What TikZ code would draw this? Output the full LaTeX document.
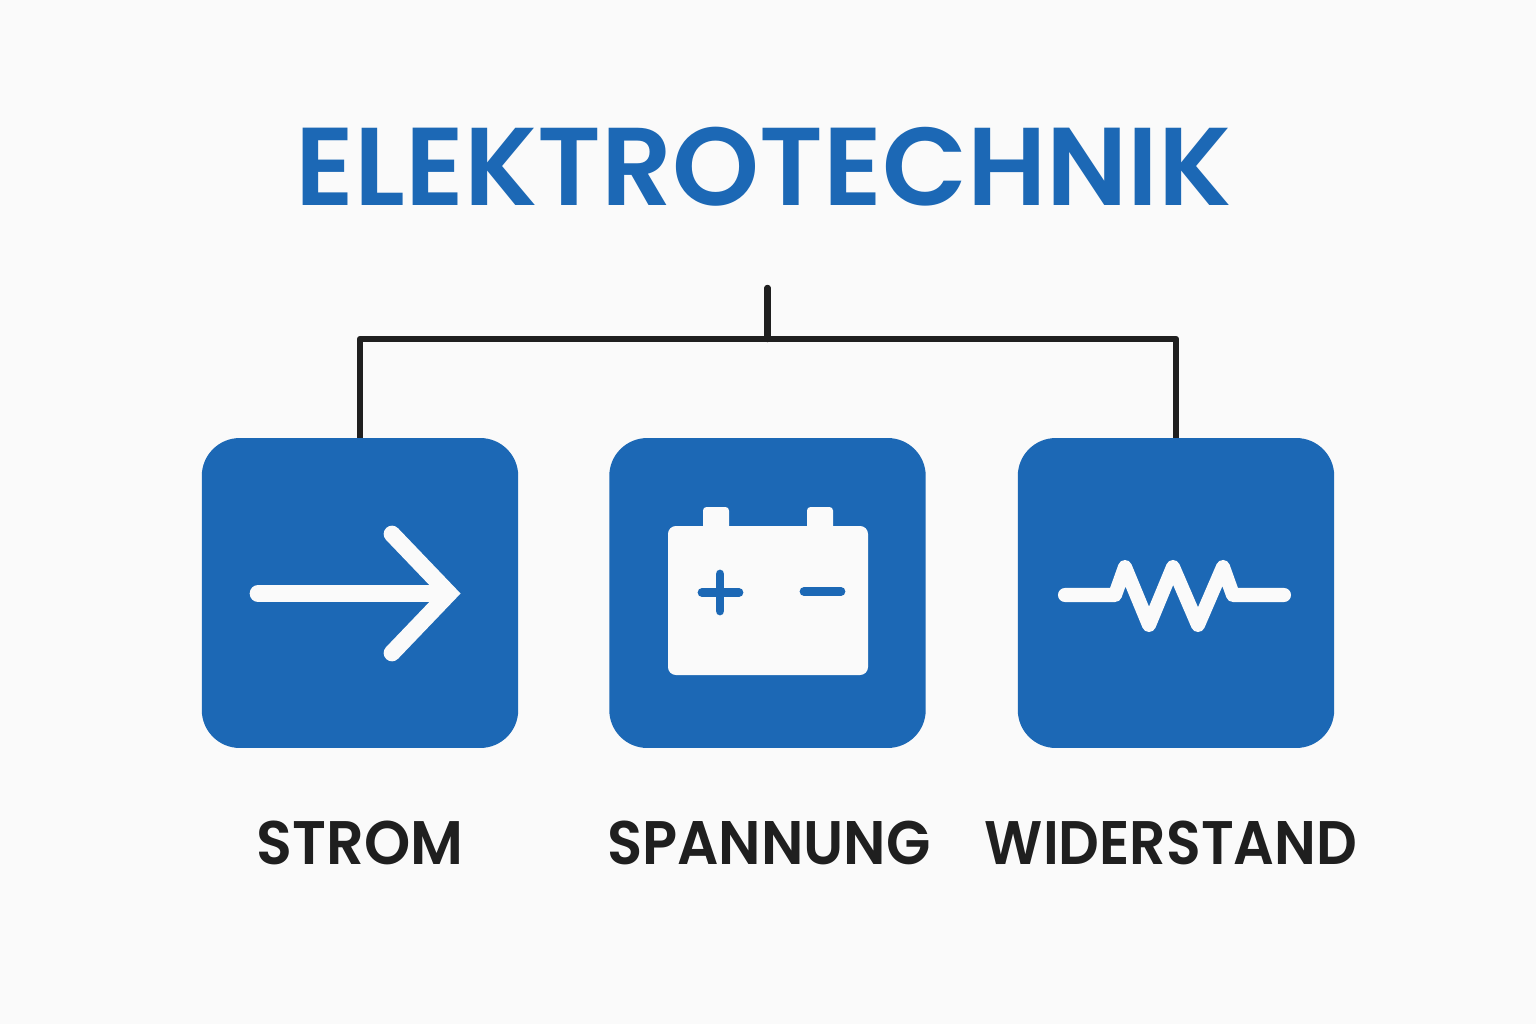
\documentclass[tikz,border=0pt]{standalone}
\usepackage{fontspec}
\setmainfont{Poppins SemiBold}
\newfontfamily\tagfonta{Poppins SemiBold}[FakeStretch=0.957]
\newfontfamily\tagfontb{Poppins SemiBold}[FakeStretch=0.939]
\newfontfamily\tagfontc{Poppins SemiBold}[FakeStretch=0.925]
\definecolor{pagegray}{HTML}{FAFAFA}
\definecolor{boxblue}{HTML}{1C68B5}
\definecolor{inkblack}{HTML}{1F1F1F}
\tikzset{
  tile/.style={fill=boxblue, rounded corners=0.76cm, minimum width=6.33cm, minimum height=6.2cm, inner sep=0pt},
  tag/.style={text=inkblack, anchor=base, inner sep=0pt},
  wire/.style={draw=inkblack, line width=3.7pt, line join=round},
  glyph/.style={draw=pagegray, line cap=round}
}
\begin{document}
\begin{tikzpicture}[x=0.02cm,y=-0.02cm]
\useasboundingbox (0,0) rectangle (1536,1024);
\fill[pagegray] (0,0) rectangle (1536,1024);
\node[font=\fontsize{63}{63}\selectfont, text=boxblue, anchor=base, inner sep=0pt] (title) at (764,206) {ELEKTROTECHNIK};
\node[tile] (strom) at (360,593) {};
\node[tile] (spannung) at (767.5,593) {};
\node[tile] (widerstand) at (1176,593) {};
\node[tag,font=\tagfonta\fontsize{35}{35}\selectfont] (stromlabel) at (360,864) {STROM};
\node[tag,font=\tagfontb\fontsize{35}{35}\selectfont] (spannunglabel) at (769,864) {SPANNUNG};
\node[tag,font=\tagfontc\fontsize{35}{35}\selectfont] (widerstandlabel) at (1171,864) {WIDERSTAND};
\coordinate (stem) at (767.5,288);
\coordinate (hub) at (767.5,339);
\path[wire,line cap=round] (stem) -- (hub);
\path[wire] (strom.north) |- (hub) -| (widerstand.north);
\draw[glyph,line width=9.5pt] (258,593.5) -- (448,593.5);
\draw[glyph,line width=9.5pt,line join=miter] (392,534) -- (449,593.5) -- (392,653);
\fill[pagegray,rounded corners=4.5pt] (668,526) rectangle (868,675);
\fill[pagegray,rounded corners=2pt] (703,530) -- (703,507) -- (729,507) -- (729,530) -- cycle;
\fill[pagegray,rounded corners=2pt] (807,530) -- (807,507) -- (833,507) -- (833,530) -- cycle;
\draw[boxblue,line width=5pt,line cap=round] (702,592.5) -- (739,592.5);
\draw[boxblue,line width=5pt,line cap=round] (720,574) -- (720,611);
\draw[boxblue,line width=5pt,line cap=round] (804,591.5) -- (841,591.5);
\draw[glyph,line width=8pt,line join=round] (1065,595) -- (1115,595) -- (1125,567) -- (1149,625) -- (1173,567) -- (1198,625) -- (1223,567) -- (1233,595) -- (1284,595);
\end{tikzpicture}
\end{document}
